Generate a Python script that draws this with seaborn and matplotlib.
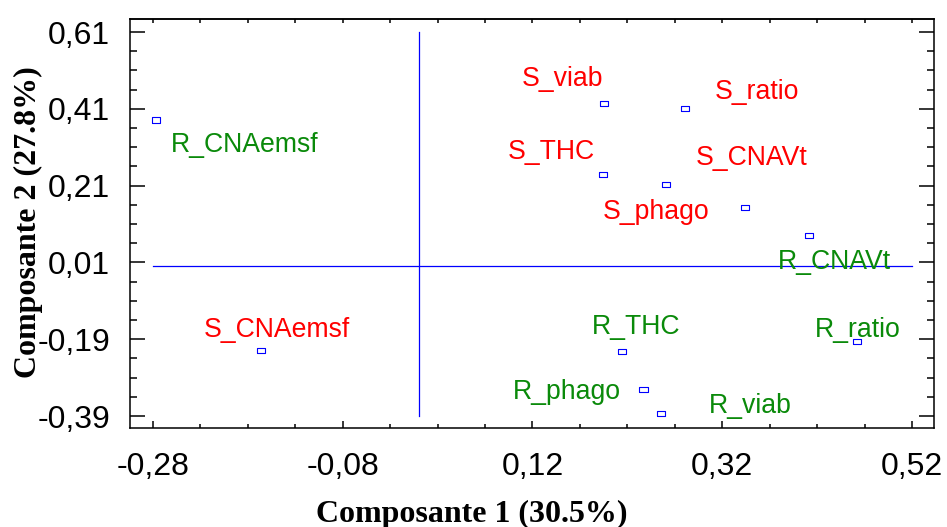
import numpy as np
import pandas as pd
import matplotlib
matplotlib.use("Agg")
import matplotlib.pyplot as plt
from matplotlib.ticker import FixedLocator
import seaborn as sns

# ---- data ----
variables = ["R_CNAemsf", "S_CNAemsf", "S_viab", "S_THC", "S_ratio", "S_phago",
             "S_CNAVt", "R_CNAVt", "R_ratio", "R_THC", "R_phago", "R_viab"]
comp1 = [-0.277, -0.166, 0.195, 0.194, 0.281, 0.261, 0.344, 0.411, 0.462, 0.214, 0.237, 0.255]
comp2 = [0.381, -0.219, 0.425, 0.240, 0.410, 0.214, 0.152, 0.079, -0.197, -0.223, -0.320, -0.382]
x_ticks = [-0.28, -0.08, 0.12, 0.32, 0.52]
y_ticks = [-0.39, -0.19, 0.01, 0.21, 0.41, 0.61]
x_ticklabels = ["-0,28", "-0,08", "0,12", "0,32", "0,52"]
y_ticklabels = ["-0,39", "-0,19", "0,01", "0,21", "0,41", "0,61"]
x_title = "Composante 1 (30.5%)"
y_title = "Composante 2 (27.8%)"

# ---- layout (label offsets in pixels, label baseline relative to point) ----
label_offsets = [(89.5, -31.7), (16.3, 13.4), (-40.7, 17.3), (-51.4, 15.4), (71.8, 10.0),
                 (-10.0, -34.6), (6.5, 43.3), (25.9, -33.3), (0.8, 5.3), (14.1, 18.0),
                 (-76.2, -10.0), (89.5, 0.0)]

df = pd.DataFrame({"var": variables, "c1": comp1, "c2": comp2})
df["group"] = df["var"].str[0]

W, H = 947, 527
fig = plt.figure(figsize=(W / 100, H / 100), dpi=100)
ax = fig.add_axes([130 / W, 1 - 428 / H, (934 - 130) / W, (428 - 19) / H])

# axes reference lines through origin spanning tick range
ax.plot([x_ticks[0], x_ticks[-1]], [0, 0], color="#0000FF", lw=0.9, zorder=1)
ax.plot([0, 0], [y_ticks[0], y_ticks[-1]], color="#0000FF", lw=0.9, zorder=1)

rect = [(-1, -0.62), (1, -0.62), (1, 0.62), (-1, 0.62), (-1, -0.62)]
sns.scatterplot(data=df, x="c1", y="c2", ax=ax, marker=rect, s=34,
                facecolor="none", edgecolor="#0000FF", linewidth=0.8, legend=False, zorder=3)

colors = {"S": "#FF0000", "R": "#0A8A0A"}
for name, g, x, y, (dx, dy) in zip(df["var"], df["group"], df["c1"], df["c2"], label_offsets):
    ax.annotate(name, (x, y), xytext=(dx, dy), textcoords="offset pixels",
                ha="center", va="baseline", fontsize=19.2, color=colors[g],
                family=["Liberation Sans", "DejaVu Sans"])

ax.set_xlim(-0.304, 0.543)
ax.set_ylim(-0.421, 0.644)
ax.set_xlabel("")
ax.set_ylabel("")

ax.set_xticks(x_ticks)
ax.set_xticklabels(x_ticklabels)
ax.set_yticks(y_ticks)
ax.set_yticklabels(y_ticklabels)
x_minor = np.round(np.arange(x_ticks[0], x_ticks[-1] + 0.001, 0.05), 3)
y_minor = np.round(np.arange(y_ticks[0], y_ticks[-1] + 0.001, 0.05), 3)
ax.xaxis.set_minor_locator(FixedLocator(x_minor))
ax.yaxis.set_minor_locator(FixedLocator(y_minor))

for lab in ax.get_xticklabels() + ax.get_yticklabels():
    lab.set_family(["Liberation Sans", "DejaVu Sans"])
    lab.set_fontsize(23)

ax.tick_params(axis="x", which="major", direction="in", length=5, width=1.1, pad=17, top=False)
ax.tick_params(axis="x", which="minor", direction="in", length=3, width=1.1, top=False)
ax.tick_params(axis="y", which="major", direction="in", length=10.8, width=1.1, pad=14.4, right=True)
ax.tick_params(axis="y", which="minor", direction="in", length=5, width=1.1, right=True)

sec = ax.secondary_xaxis("top")
sec.set_xticks(x_ticks)
sec.xaxis.set_minor_locator(FixedLocator(x_minor))
sec.tick_params(axis="x", which="both", direction="in", length=3, width=1.1, labeltop=False)
sec.spines["top"].set_linewidth(1.1)

for sp in ax.spines.values():
    sp.set_linewidth(1.1)
    sp.set_color("black")

fig.text(471.5 / W, 1 - 521.7 / H, x_title, ha="center", va="baseline",
         fontsize=23, fontweight="bold", family=["Liberation Serif", "DejaVu Serif"])
fig.text(28 / W, 1 - 222.5 / H, y_title, ha="center", va="center", rotation=90,
         fontsize=23, fontweight="bold", family=["Liberation Serif", "DejaVu Serif"])

fig.savefig("out.png", dpi=100)
